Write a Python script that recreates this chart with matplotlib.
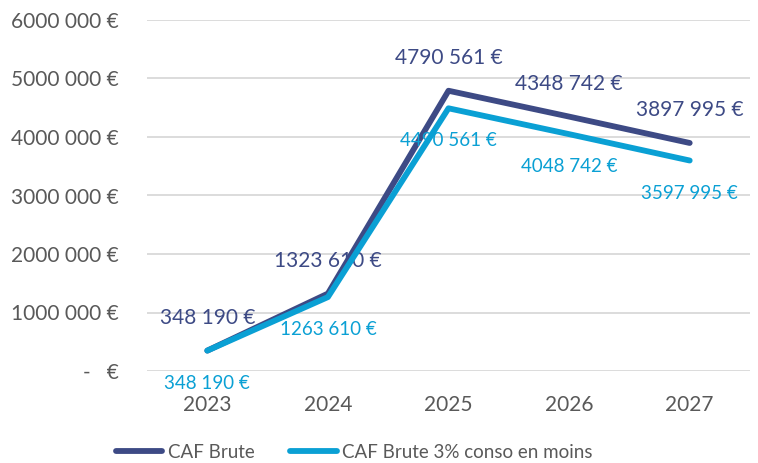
import matplotlib.pyplot as plt

plt.rcParams['font.family'] = ['Lato', 'DejaVu Sans']

years = ["2023", "2024", "2025", "2026", "2027"]
caf_brute = [348190, 1323610, 4790561, 4348742, 3897995]
caf_conso = [348190, 1263610, 4490561, 4048742, 3597995]
series_names = ["CAF Brute", "CAF Brute 3% conso en moins"]

dark = "#3d4a85"
light = "#0aa0d4"
grey = "#595959"


def euro(v):
    if v == 0:
        return "-   €"
    s = f"{int(v):,}".replace(",", " ")
    # format excel: premier groupe colle
    parts = s.split(" ")
    if len(parts) == 3:
        s = parts[0] + parts[1] + " " + parts[2]
    return s + " €"


fig = plt.figure(figsize=(7.58, 4.63), dpi=100)
ax = fig.add_axes([147 / 758, 1 - 371 / 463, 603 / 758, 351 / 463])

x = list(range(len(years)))
ax.plot(x, caf_brute, color=dark, lw=4.2, solid_capstyle="round", label=series_names[0], zorder=3)
ax.plot(x, caf_conso, color=light, lw=4.2, solid_capstyle="round", label=series_names[1], zorder=4)

for i, v in enumerate(caf_brute):
    ax.annotate(euro(v), (i, v), xytext=(0, 23.5), textcoords="offset points",
                ha="center", va="center", color=dark, fontsize=15)
for i, v in enumerate(caf_conso):
    ax.annotate(euro(v), (i, v), xytext=(0, -23.5), textcoords="offset points",
                ha="center", va="center", color=light, fontsize=13.5)

ax.set_xlim(-0.5, 4.5)
ax.set_ylim(0, 6000000)
yt = [0, 1000000, 2000000, 3000000, 4000000, 5000000, 6000000]
ax.set_yticks(yt)
ax.set_yticklabels([euro(v) for v in yt])
ax.set_xticks(x)
ax.set_xticklabels(years)
ax.tick_params(axis="y", length=0, pad=20, labelsize=15, labelcolor=grey)
ax.tick_params(axis="x", length=0, pad=17.5, labelsize=15, labelcolor=grey)
ax.grid(axis="y", color="#d9d9d9", lw=1.3)
ax.set_axisbelow(True)
for s in ax.spines.values():
    s.set_visible(False)

fig.legend(loc="center", bbox_to_anchor=(0.467, 11 / 463), ncol=2, frameon=False,
           fontsize=13.5, labelcolor=grey, handlelength=2.5, handletextpad=0.27,
           columnspacing=1.9)

fig.savefig("out.png", dpi=100)
